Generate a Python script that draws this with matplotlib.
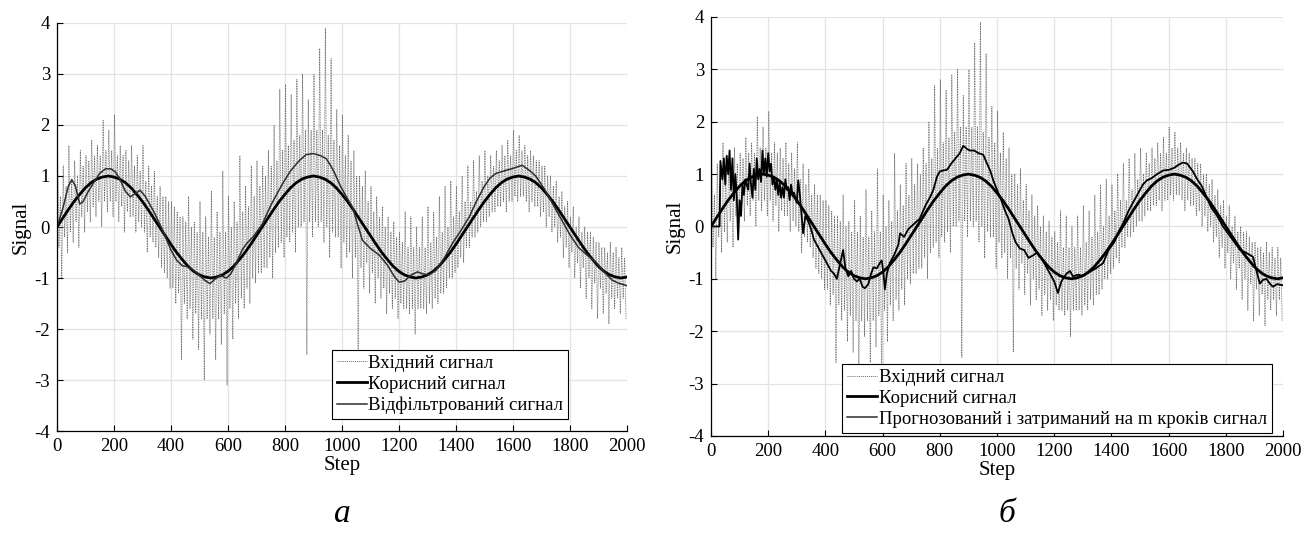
import matplotlib
matplotlib.use("Agg")
import matplotlib.pyplot as plt
from matplotlib.lines import Line2D

plt.rcParams['font.family'] = ['Liberation Serif', 'DejaVu Serif']
plt.rcParams['axes.unicode_minus'] = False

# ---------------- data ----------------
# useful signal, every 20 steps from 0 to 2000
useful_steps = list(range(0, 2001, 20))
useful_vals = [
    0.00, 0.17, 0.34, 0.50, 0.64, 0.77, 0.87, 0.94, 0.98, 1.00, 0.98, 0.94, 0.87, 0.77, 0.64, 0.50, 0.34, 0.17,
    0.00, -0.17, -0.34, -0.50, -0.64, -0.77, -0.87, -0.94, -0.98, -1.00, -0.98, -0.94, -0.87, -0.77, -0.64, -0.50, -0.34, -0.17,
    0.00, 0.17, 0.34, 0.50, 0.64, 0.77, 0.87, 0.94, 0.98, 1.00, 0.98, 0.94, 0.87, 0.77, 0.64, 0.50, 0.34, 0.17,
    0.00, -0.17, -0.34, -0.50, -0.64, -0.77, -0.87, -0.94, -0.98, -1.00, -0.98, -0.94, -0.87, -0.77, -0.64, -0.50, -0.34, -0.17,
    0.00, 0.17, 0.34, 0.50, 0.64, 0.77, 0.87, 0.94, 0.98, 1.00, 0.98, 0.94, 0.87, 0.77, 0.64, 0.50, 0.34, 0.17,
    0.00, -0.17, -0.34, -0.50, -0.64, -0.77, -0.87, -0.94, -0.98, -1.00, -0.98,
]

# noisy input signal, per 20-step block: spike maximum / minimum and the dense core band
input_block_start = list(range(0, 2000, 20))
input_hi = [
    1.5, 1.2, 1.6, 1.3, 1.5, 1.4, 1.7, 1.6, 2.1, 1.9,
    2.2, 1.6, 1.5, 1.6, 1.4, 1.6, 1.2, 1.1, 0.8, 0.6,
    0.5, 0.3, 0.2, 0.6, 0.1, 0.5, 0.2, 0.7, 0.3, 1.1,
    0.6, 0.5, 1.4, 0.8, 1.2, 1.3, 1.2, 1.5, 2.0, 2.7,
    2.8, 2.6, 2.9, 3.0, 2.5, 3.0, 3.5, 3.9, 3.3, 2.3,
    2.2, 1.8, 1.5, 1.0, 1.1, 0.8, 0.6, 0.4, 0.2, 0.1,
    -0.1, 0.3, 0.2, 0.0, 0.2, 0.4, 0.3, 0.6, 0.8, 0.9,
    0.8, 1.0, 1.2, 1.3, 1.4, 1.5, 1.4, 1.5, 1.6, 1.7,
    1.9, 1.8, 1.6, 1.5, 1.3, 1.2, 1.0, 0.8, 0.6, 0.4,
    0.2, 0.0, -0.1, -0.1, -0.2, -0.3, -0.4, -0.3, -0.4, -0.4,
]
input_lo = [
    -1.0, -0.5, -0.3, -0.4, -0.1, 0.1, 0.2, 0.0, 0.3, 0.2,
    0.1, -0.1, 0.2, -0.1, 0.0, -0.5, -0.3, -0.6, -0.9, -1.2,
    -1.5, -2.6, -1.8, -2.2, -2.4, -3.0, -2.1, -2.6, -2.3, -3.1,
    -2.2, -1.8, -1.6, -1.5, -1.1, -0.9, -0.8, -1.0, -0.4, -0.6,
    -0.3, -0.5, 0.0, -2.5, -0.2, 0.0, -0.3, -0.6, -0.2, -0.8,
    -0.6, -1.0, -2.4, -1.2, -1.3, -1.5, -1.4, -1.7, -1.6, -1.8,
    -1.6, -1.7, -2.1, -1.6, -1.7, -1.6, -1.5, -1.3, -1.0, -0.9,
    -0.6, -0.4, -0.2, -0.1, 0.1, 0.2, 0.3, 0.4, 0.3, 0.5,
    0.5, 0.6, 0.3, 0.4, 0.2, 0.0, -0.1, -0.3, -0.6, -0.8,
    -1.0, -1.2, -1.4, -1.6, -1.8, -1.7, -1.9, -1.6, -1.7, -1.8,
]
input_core_hi = [
    0.6, 0.8, 0.9, 1.0, 1.2, 1.3, 1.4, 1.4, 1.5, 1.5, 1.4, 1.4, 1.3, 1.2, 1.1, 0.9, 0.8, 0.6,
    0.6, 0.5, 0.4, 0.2, 0.1, 0.0, -0.1, -0.1, -0.2, -0.2, -0.1, -0.1, 0.0, 0.1, 0.3, 0.4, 0.6, 0.8,
    1.0, 1.2, 1.3, 1.5, 1.6, 1.7, 1.8, 1.9, 1.9, 1.9, 1.9, 1.8, 1.7, 1.6, 1.4, 1.3, 1.0, 0.8,
    0.5, 0.3, 0.2, 0.0, -0.1, -0.2, -0.3, -0.4, -0.4, -0.4, -0.4, -0.3, -0.2, -0.1, 0.0, 0.2, 0.3, 0.5,
    0.5, 0.7, 0.9, 1.0, 1.2, 1.3, 1.4, 1.4, 1.5, 1.5, 1.4, 1.4, 1.3, 1.2, 1.0, 0.9, 0.7, 0.5,
    0.4, 0.2, 0.0, -0.1, -0.3, -0.4, -0.5, -0.5, -0.6, -0.6,
]
input_core_lo = [
    -0.4, -0.2, -0.1, 0.1, 0.2, 0.3, 0.4, 0.5, 0.5, 0.5, 0.5, 0.4, 0.3, 0.2, 0.1, -0.1, -0.2, -0.4,
    -0.8, -1.0, -1.2, -1.3, -1.5, -1.6, -1.7, -1.8, -1.8, -1.8, -1.8, -1.7, -1.6, -1.5, -1.4, -1.2, -1.0, -0.9,
    -0.8, -0.6, -0.5, -0.3, -0.2, -0.1, 0.0, 0.1, 0.1, 0.1, 0.1, 0.0, -0.1, -0.2, -0.3, -0.5, -0.6, -0.8,
    -0.7, -0.9, -1.0, -1.2, -1.3, -1.4, -1.5, -1.6, -1.6, -1.6, -1.6, -1.5, -1.4, -1.3, -1.2, -1.0, -0.8, -0.7,
    -0.4, -0.2, 0.0, 0.1, 0.3, 0.4, 0.5, 0.5, 0.6, 0.6, 0.5, 0.5, 0.4, 0.3, 0.2, 0.0, -0.2, -0.4,
    -0.5, -0.7, -0.8, -1.0, -1.1, -1.2, -1.3, -1.4, -1.4, -1.4,
]

# filtered signal (panel a)
filt_steps = [0, 20, 40, 52, 65, 80, 92, 110, 130, 150, 170, 190, 205, 220, 240, 258, 275, 292, 310, 340,
              370, 400, 420, 440, 460, 480, 500, 520, 537, 555, 572, 595, 610, 630, 650, 665, 690, 720, 750, 775,
              795, 820, 850, 875, 900, 925, 945, 960, 975, 995, 1015, 1037, 1055, 1072, 1100, 1131, 1160, 1185, 1201, 1220,
              1240, 1265, 1285, 1306, 1330, 1360, 1390, 1420, 1447, 1470, 1500, 1520, 1540, 1570, 1600, 1633, 1660, 1680, 1710, 1740,
              1770, 1800, 1830, 1860, 1890, 1920, 1948, 1970, 2000]
filt_vals = [0.00, 0.35, 0.80, 0.93, 0.80, 0.45, 0.50, 0.70, 0.88, 1.05, 1.14, 1.14, 1.08, 0.95, 0.70, 0.59, 0.66, 0.72, 0.60, 0.30,
             -0.05, -0.45, -0.65, -0.76, -0.78, -0.85, -0.95, -1.05, -1.11, -1.02, -0.95, -1.00, -0.92, -0.70, -0.45, -0.33, -0.18, 0.05, 0.42, 0.68,
             0.88, 1.10, 1.30, 1.42, 1.44, 1.40, 1.34, 1.21, 1.05, 0.80, 0.60, 0.39, 0.05, -0.26, -0.42, -0.55, -0.75, -0.98, -1.08, -1.06,
             -0.95, -0.88, -0.92, -0.94, -0.85, -0.60, -0.30, -0.05, 0.20, 0.48, 0.80, 0.96, 1.05, 1.10, 1.15, 1.21, 1.10, 1.00, 0.75, 0.45,
             0.15, -0.15, -0.40, -0.55, -0.68, -0.88, -1.04, -1.10, -1.15]

# predicted and delayed by m steps signal (panel b)
pred_steps = [0, 30, 33, 40, 45, 50, 55, 60, 65, 70, 75, 80, 85, 90, 95, 100, 105, 110, 115, 120,
              130, 135, 140, 145, 150, 155, 160, 165, 170, 175, 180, 185, 190, 195, 200, 205, 210, 215, 220, 225,
              230, 235, 240, 245, 250, 255, 260, 265, 270, 275, 280, 285, 290, 300, 305, 311, 322, 330, 340, 350,
              360, 375, 390, 400, 410, 420, 430, 440, 450, 462, 470, 480, 490, 500, 510, 520, 530, 538, 550, 560,
              568, 580, 590, 597, 603, 608, 615, 625, 640, 655, 661, 675, 690, 710, 730, 750, 765, 777, 790, 800,
              812, 825, 840, 855, 870, 882, 895, 905, 920, 935, 952, 965, 976, 987, 1000, 1015, 1028, 1040, 1055, 1065,
              1080, 1095, 1110, 1127, 1140, 1155, 1170, 1185, 1200, 1213, 1225, 1243, 1255, 1265, 1285, 1300, 1320, 1340, 1371, 1390,
              1410, 1425, 1441, 1460, 1480, 1500, 1510, 1524, 1540, 1560, 1582, 1600, 1620, 1635, 1650, 1665, 1685, 1700, 1715, 1732,
              1750, 1770, 1790, 1810, 1830, 1850, 1870, 1895, 1905, 1919, 1930, 1942, 1955, 1965, 1980, 1995, 2000]
pred_vals = [0.0, 0.0, 1.25, 0.9, 1.3, 0.8, 1.35, 1.0, 1.45, 0.7, 1.3, 0.5, 1.0, 0.6, -0.25, 0.5, 0.2, 0.8, 0.6, 0.9,
             0.7, 1.2, 0.8, 0.55, 1.1, 0.7, 1.3, 0.9, 1.1, 0.85, 1.45, 1.0, 1.3, 0.95, 1.4, 1.05, 1.2, 0.8, 0.95, 0.7,
             0.9, 0.6, 0.85, 0.55, 0.75, 0.55, 0.9, 0.7, 0.75, 0.5, 0.8, 0.6, 0.65, 0.45, 0.88, 0.6, -0.13, 0.2, 0.1, -0.05,
             -0.25, -0.4, -0.55, -0.65, -0.75, -0.85, -0.9, -1.0, -0.75, -0.45, -0.8, -0.95, -0.85, -1.0, -1.05, -1.0, -1.15, -1.18, -1.1, -0.9,
             -0.78, -0.8, -0.7, -0.65, -0.9, -1.2, -0.9, -0.7, -0.55, -0.35, -0.13, -0.2, -0.05, 0.05, 0.15, 0.4, 0.55, 0.69, 0.95, 1.05,
             1.07, 1.08, 1.2, 1.3, 1.4, 1.54, 1.48, 1.45, 1.45, 1.4, 1.37, 1.2, 1.07, 0.88, 0.7, 0.5, 0.3, 0.15, -0.15, -0.3,
             -0.42, -0.45, -0.6, -0.55, -0.5, -0.6, -0.75, -0.9, -1.05, -1.27, -1.05, -0.9, -0.85, -0.95, -0.92, -0.95, -0.88, -0.82, -0.7, -0.45,
             -0.3, -0.1, 0.06, 0.3, 0.5, 0.7, 0.8, 0.88, 0.92, 1.0, 1.07, 1.08, 1.12, 1.18, 1.22, 1.2, 1.05, 0.9, 0.78, 0.57,
             0.35, 0.2, 0.0, -0.15, -0.3, -0.45, -0.5, -0.58, -0.8, -1.09, -1.02, -1.0, -1.1, -1.15, -1.1, -1.12, -1.12]

x_ticks = list(range(0, 2001, 200))
y_ticks = list(range(-4, 5))
labels_a = ['Вхідний сигнал', 'Корисний сигнал', 'Відфільтрований сигнал']
labels_b = ['Вхідний сигнал', 'Корисний сигнал', 'Прогнозований і затриманий на m кроків сигнал']

# zig-zag of the noisy input from the block values
in_x, in_y = [], []
for s, h, cl, ch, l in zip(input_block_start, input_hi, input_core_lo, input_core_hi, input_lo):
    in_x += [s + 2, s + 7, s + 12, s + 17]
    in_y += [h, cl, ch, l]

FS = 13.5
FL = 15
fig = plt.figure(figsize=(13.06, 5.47), dpi=100)
ax_a = fig.add_axes([0.0436, 0.212, 0.4364, 0.746])
ax_b = fig.add_axes([0.5444, 0.203, 0.4380, 0.766])

in_style = dict(color='#6a6a6a', lw=0.6, ls=(0, (1, 1)))


def style(ax):
    ax.set_xlim(0, 2000)
    ax.set_ylim(-4, 4)
    ax.set_xticks(x_ticks)
    ax.set_yticks(y_ticks)
    ax.grid(True, color='#e3e3e3', lw=0.9)
    ax.set_axisbelow(True)
    for sp in ['top', 'right']:
        ax.spines[sp].set_visible(False)
    for sp in ['left', 'bottom']:
        ax.spines[sp].set_linewidth(0.9)
    ax.tick_params(direction='in', length=4, labelsize=FS, width=0.8, pad=5)
    ax.set_xlabel('Step', fontsize=FL, labelpad=1)
    ax.set_ylabel('Signal', fontsize=FL, labelpad=3)


# panel a
ax_a.plot(in_x, in_y, **in_style)
ax_a.plot(useful_steps, useful_vals, color='black', lw=2.0)
ax_a.plot(filt_steps, filt_vals, color='#2e2e2e', lw=1.1)
style(ax_a)
h_a = [Line2D([], [], color='#6a6a6a', lw=0.7, ls=(0, (1, 1))), Line2D([], [], color='black', lw=2.0),
       Line2D([], [], color='#2e2e2e', lw=1.1)]
leg = ax_a.legend(h_a, labels_a, loc='lower right', bbox_to_anchor=(0.897, 0.03), fontsize=FS,
                  frameon=True, fancybox=False, edgecolor='black', framealpha=1, handlelength=1.6,
                  handletextpad=0.1, borderpad=0.25, labelspacing=0.2, borderaxespad=0)
leg.get_frame().set_linewidth(0.8)

# panel b
ax_b.plot(in_x, in_y, **in_style)
ax_b.plot(useful_steps, useful_vals, color='black', lw=2.0)
ax_b.plot(pred_steps, pred_vals, color='black', lw=1.3)
style(ax_b)
h_b = [Line2D([], [], color='#6a6a6a', lw=0.7, ls=(0, (1, 1))), Line2D([], [], color='black', lw=2.0),
       Line2D([], [], color='#2e2e2e', lw=1.1)]
leg = ax_b.legend(h_b, labels_b, loc='lower right', bbox_to_anchor=(0.98, 0.008), fontsize=FS,
                  frameon=True, fancybox=False, edgecolor='black', framealpha=1, handlelength=1.6,
                  handletextpad=0.1, borderpad=0.25, labelspacing=0.2, borderaxespad=0)
leg.get_frame().set_linewidth(0.8)

fig.text(0.262, 0.045, 'а', fontsize=24, style='italic', ha='center', va='baseline')
fig.text(0.771, 0.045, 'б', fontsize=24, style='italic', ha='center', va='baseline')

fig.savefig('out.png', dpi=100)
